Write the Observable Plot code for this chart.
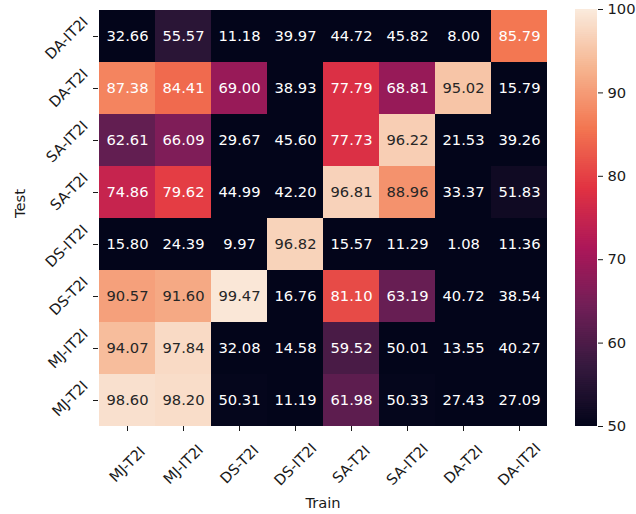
<!DOCTYPE html>
<html><head><meta charset="utf-8">
<script src="https://cdn.jsdelivr.net/npm/d3@7"></script>
<script src="https://cdn.jsdelivr.net/npm/@observablehq/plot@0.6"></script>
<style>
html,body{margin:0;padding:0;background:#fff;}
#wrap{position:relative;width:636px;height:514px;font-family:"DejaVu Sans",sans-serif;}
#wrap svg{position:absolute;top:0;}
</style></head><body><div id="wrap"></div>
<script>
const trainLabels = ["MJ-T2I","MJ-IT2I","DS-T2I","DS-IT2I","SA-T2I","SA-IT2I","DA-T2I","DA-IT2I"];
const testLabels  = ["DA-IT2I","DA-T2I","SA-IT2I","SA-T2I","DS-IT2I","DS-T2I","MJ-IT2I","MJ-T2I"];
const rowDAIT2I = [32.66, 55.57, 11.18, 39.97, 44.72, 45.82, 8.00, 85.79];
const rowDAT2I  = [87.38, 84.41, 69.00, 38.93, 77.79, 68.81, 95.02, 15.79];
const rowSAIT2I = [62.61, 66.09, 29.67, 45.60, 77.73, 96.22, 21.53, 39.26];
const rowSAT2I  = [74.86, 79.62, 44.99, 42.20, 96.81, 88.96, 33.37, 51.83];
const rowDSIT2I = [15.80, 24.39, 9.97, 96.82, 15.57, 11.29, 1.08, 11.36];
const rowDST2I  = [90.57, 91.60, 99.47, 16.76, 81.10, 63.19, 40.72, 38.54];
const rowMJIT2I = [94.07, 97.84, 32.08, 14.58, 59.52, 50.01, 13.55, 40.27];
const rowMJT2I  = [98.60, 98.20, 50.31, 11.19, 61.98, 50.33, 27.43, 27.09];
const rows = [rowDAIT2I,rowDAT2I,rowSAIT2I,rowSAT2I,rowDSIT2I,rowDST2I,rowMJIT2I,rowMJT2I];
const colorTicks = [50,60,70,80,90,100];
const colorDomain = [50,100];
const rocketStops = ["#03051a","#35193e","#701f57","#ad1759","#e13342","#f37651","#f6b48f","#faebdd"];

const rocket = d3.piecewise(d3.interpolateRgb, rocketStops);
const colorScale = {type:"linear", domain:colorDomain, interpolate: t => rocket(t), clamp:true};

const data = testLabels.flatMap((test,i) => trainLabels.map((train,j) => ({test, train, value: rows[i][j]})));

function lum(v){
  const t = Math.max(0, Math.min(1, (v - colorDomain[0])/(colorDomain[1]-colorDomain[0])));
  const c = d3.rgb(rocket(t));
  const f = x => { x/=255; return x <= 0.03928 ? x/12.92 : Math.pow((x+0.055)/1.055, 2.4); };
  return 0.2126*f(c.r) + 0.7152*f(c.g) + 0.0722*f(c.b);
}
const isLight = d => lum(d.value) > 0.408;

const FS = 14.7;
const txtColor = "#1a1a1a";
const main = Plot.plot({
  width:560, height:514,
  marginLeft:98, marginRight:13, marginTop:9, marginBottom:88,
  style:{fontFamily:"DejaVu Sans", fontSize:FS+"px", color:txtColor, background:"transparent"},
  x:{domain:trainLabels, padding:0, label:null, axis:null},
  y:{domain:testLabels, padding:0, label:null, axis:null},
  color:colorScale,
  marks:[
    Plot.cell(data, {x:"train", y:"test", fill:"value", inset:0}),
    Plot.text(data.filter(isLight), {x:"train", y:"test", text:d=>d.value.toFixed(2), fill:"#262626", fontSize:FS}),
    Plot.text(data.filter(d=>!isLight(d)), {x:"train", y:"test", text:d=>d.value.toFixed(2), fill:"#ffffff", fontSize:FS}),
    Plot.axisX({anchor:"bottom", tickSize:5, tickFormat:()=>"", label:null, stroke:txtColor}),
    Plot.text(trainLabels, {x:d=>d, text:d=>d, frameAnchor:"bottom", dy:38, rotate:-45, textAnchor:"middle", lineAnchor:"middle", fontSize:FS, fill:txtColor}),
    Plot.axisY({anchor:"left", tickSize:5, tickFormat:()=>"", label:null, stroke:txtColor}),
    Plot.axisY({anchor:"left", tickSize:0, tickPadding:6, tickRotate:-45, dx:-7, dy:-17, label:null, fontSize:FS, fill:txtColor}),
    Plot.text(["Train"], {text:d=>d, frameAnchor:"bottom", dy:77, lineAnchor:"middle", fontSize:FS, fill:txtColor}),
    Plot.text(["Test"], {text:d=>d, frameAnchor:"left", dx:-78, rotate:-90, lineAnchor:"middle", fontSize:FS, fill:txtColor})
  ]
});
main.style.left = "0px";

const ramp = d3.range(colorDomain[0], colorDomain[1], 0.25);
const bar = Plot.plot({
  width:76, height:514,
  marginLeft:15, marginRight:39, marginTop:9, marginBottom:88,
  style:{fontFamily:"DejaVu Sans", fontSize:FS+"px", color:txtColor, background:"transparent"},
  x:{domain:[0,1], axis:null},
  y:{domain:colorDomain, axis:null},
  color:colorScale,
  marks:[
    Plot.rect(ramp, {x1:0, x2:1, y1:d=>d, y2:d=>Math.min(colorDomain[1], d+0.35), fill:d=>d+0.125, inset:0}),
    Plot.axisY({anchor:"right", ticks:colorTicks, tickSize:5, tickPadding:5, label:null, fontSize:FS, stroke:txtColor, fill:txtColor})
  ]
});
bar.style.left = "560px";

const wrap = document.getElementById("wrap");
wrap.appendChild(main);
wrap.appendChild(bar);
</script></body></html>
